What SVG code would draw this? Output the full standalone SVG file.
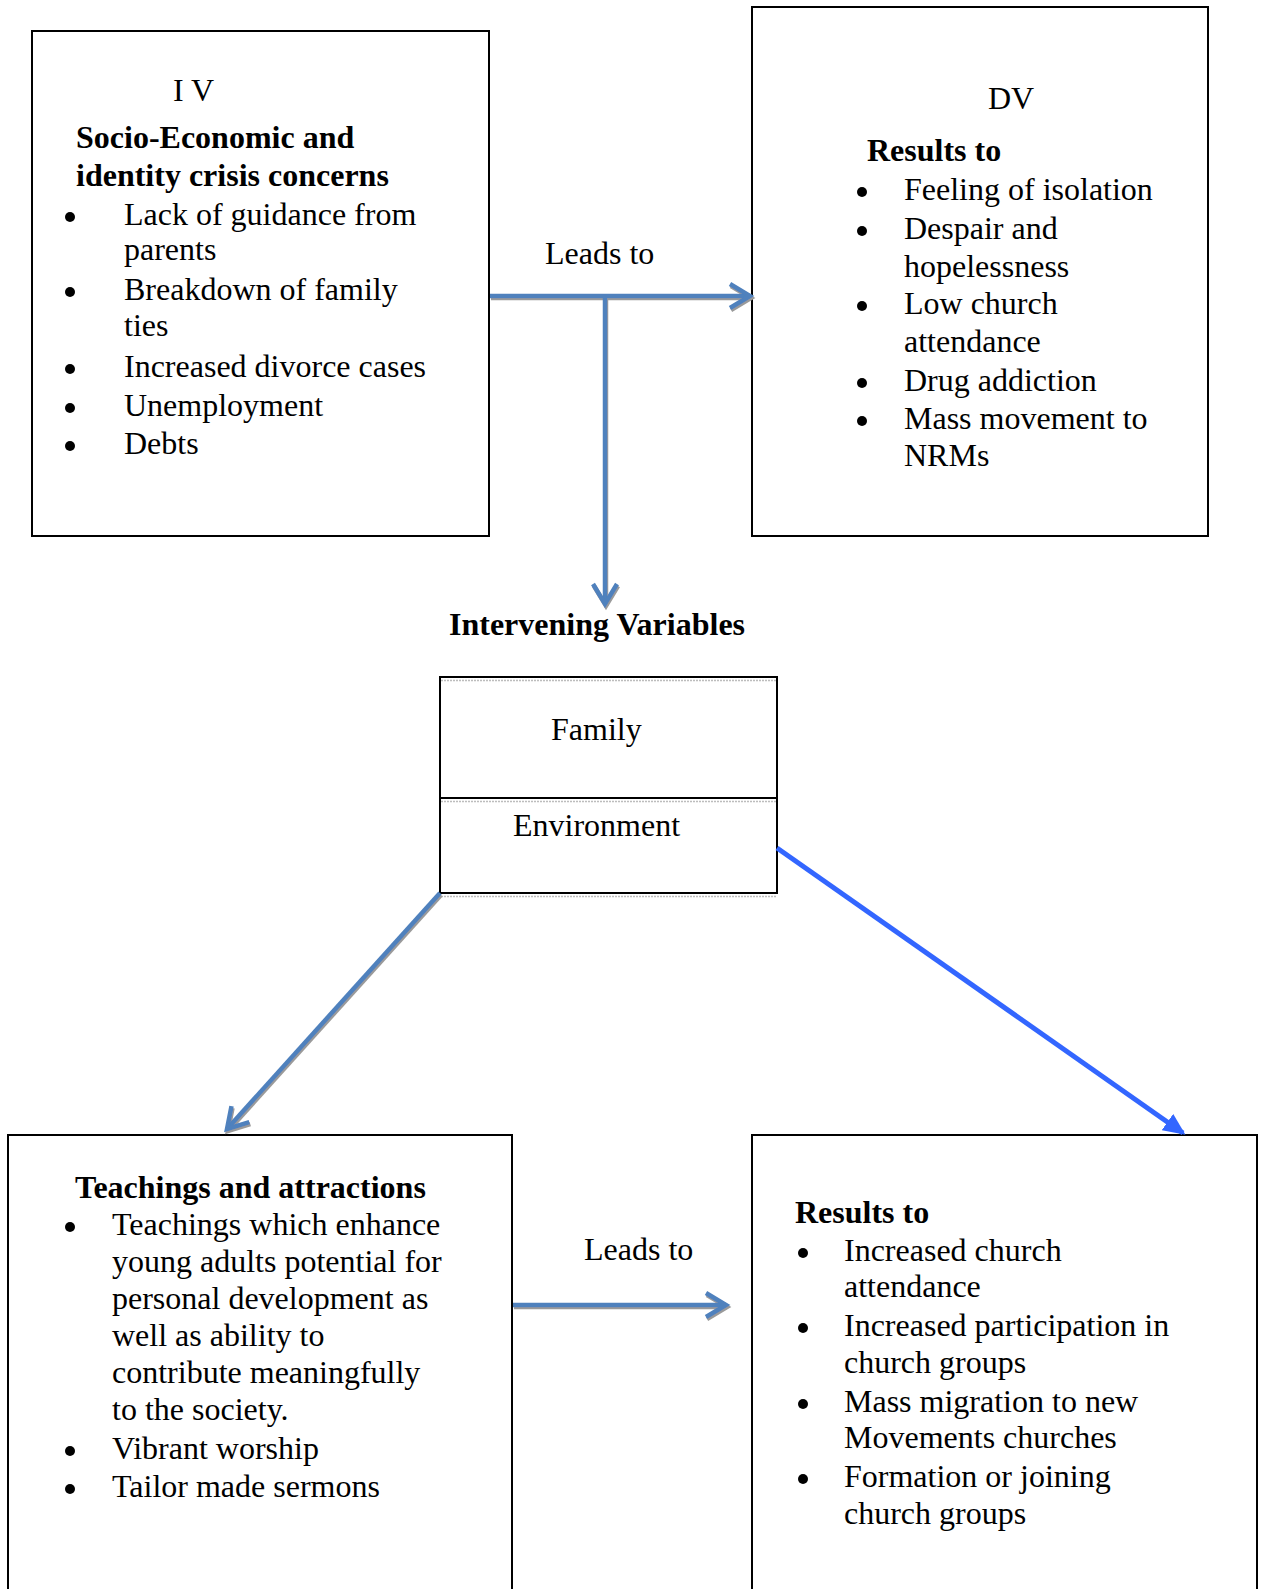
<svg xmlns="http://www.w3.org/2000/svg" width="1265" height="1589" viewBox="0 0 1265 1589">
<style>
.t{font-family:"Liberation Serif","Times New Roman",serif;font-size:32px;fill:#000}
.b{font-weight:bold}
.box{fill:#fff;stroke:#000;stroke-width:2}
.sh{stroke:#bdbdbd;stroke-width:1.5;stroke-dasharray:2 1}
.dot{fill:#000}
.conn{fill:none;stroke:#4F81BD;stroke-width:4.5;filter:url(#ds)}
.conn2{fill:none;stroke:#3366FF;stroke-width:5}
</style>
<defs>
<filter id="ds" filterUnits="userSpaceOnUse" x="0" y="0" width="1265" height="1589">
<feDropShadow dx="1" dy="2" stdDeviation="0.6" flood-color="#9a9a9a"/>
</filter>
<marker id="chev" viewBox="0 0 30 30" markerWidth="30" markerHeight="30" refX="25" refY="15" orient="auto" markerUnits="userSpaceOnUse" overflow="visible">
<path d="M5,3 L25,15 L5,27" fill="none" stroke="#4F81BD" stroke-width="4.5" stroke-linejoin="miter"/>
</marker>
<marker id="tri" viewBox="0 0 22 20" markerWidth="22" markerHeight="20" refX="19" refY="10" orient="auto" markerUnits="userSpaceOnUse">
<path d="M0,0 L22,10 L0,20 z" fill="#3366FF"/>
</marker>
</defs>
<rect width="1265" height="1589" fill="#fff"/>

<g id="iv">
<rect class="box" x="32" y="31" width="457" height="505"/>
<text class="t" x="173" y="101">I V</text>
<text class="t b" x="76" y="148">Socio-Economic and</text>
<text class="t b" x="76" y="186">identity crisis concerns</text>
<circle class="dot" cx="70" cy="217" r="5"/>
<text class="t" x="124" y="225">Lack of guidance from</text>
<text class="t" x="124" y="260">parents</text>
<circle class="dot" cx="70" cy="292" r="5"/>
<text class="t" x="124" y="300">Breakdown of family</text>
<text class="t" x="124" y="336">ties</text>
<circle class="dot" cx="70" cy="369" r="5"/>
<text class="t" x="124" y="377">Increased divorce cases</text>
<circle class="dot" cx="70" cy="408" r="5"/>
<text class="t" x="124" y="416">Unemployment</text>
<circle class="dot" cx="70" cy="446" r="5"/>
<text class="t" x="124" y="454">Debts</text>
</g>

<g id="dv">
<rect class="box" x="752" y="7" width="456" height="529"/>
<text class="t" x="988" y="109">DV</text>
<text class="t b" x="867" y="161">Results to</text>
<circle class="dot" cx="862" cy="192" r="5"/>
<text class="t" x="904" y="200">Feeling of isolation</text>
<circle class="dot" cx="862" cy="231" r="5"/>
<text class="t" x="904" y="239">Despair and</text>
<text class="t" x="904" y="277">hopelessness</text>
<circle class="dot" cx="862" cy="306" r="5"/>
<text class="t" x="904" y="314">Low church</text>
<text class="t" x="904" y="352">attendance</text>
<circle class="dot" cx="862" cy="383" r="5"/>
<text class="t" x="904" y="391">Drug addiction</text>
<circle class="dot" cx="862" cy="421" r="5"/>
<text class="t" x="904" y="429">Mass movement to</text>
<text class="t" x="904" y="466">NRMs</text>
</g>

<g id="intervening-title">
<text class="t b" x="449" y="635">Intervening Variables</text>
</g>

<g id="intervening">
<rect class="box" x="440" y="677" width="337" height="216"/>
<line class="sh" x1="441" y1="680.5" x2="776" y2="680.5"/>
<line x1="440" y1="798" x2="777" y2="798" stroke="#000" stroke-width="2"/>
<line class="sh" x1="441" y1="801.5" x2="776" y2="801.5"/>
<line class="sh" x1="441" y1="896.5" x2="777" y2="896.5"/>
<text class="t" x="551" y="740">Family</text>
<text class="t" x="513" y="836">Environment</text>
</g>

<g id="teachings">
<rect class="box" x="8" y="1135" width="504" height="470"/>
<text class="t b" x="75" y="1198">Teachings and attractions</text>
<circle class="dot" cx="70" cy="1227" r="5"/>
<text class="t" x="112" y="1235">Teachings which enhance</text>
<text class="t" x="112" y="1272">young adults potential for</text>
<text class="t" x="112" y="1309">personal development as</text>
<text class="t" x="112" y="1346">well as ability to</text>
<text class="t" x="112" y="1383">contribute meaningfully</text>
<text class="t" x="112" y="1420">to the society.</text>
<circle class="dot" cx="70" cy="1451" r="5"/>
<text class="t" x="112" y="1459">Vibrant worship</text>
<circle class="dot" cx="70" cy="1489" r="5"/>
<text class="t" x="112" y="1497">Tailor made sermons</text>
</g>

<g id="results">
<rect class="box" x="752" y="1135" width="505" height="470"/>
<text class="t b" x="795" y="1223">Results to</text>
<circle class="dot" cx="803" cy="1253" r="5"/>
<text class="t" x="844" y="1261">Increased church</text>
<text class="t" x="844" y="1297">attendance</text>
<circle class="dot" cx="803" cy="1328" r="5"/>
<text class="t" x="844" y="1336">Increased participation in</text>
<text class="t" x="844" y="1373">church groups</text>
<circle class="dot" cx="803" cy="1404" r="5"/>
<text class="t" x="844" y="1412">Mass migration to new</text>
<text class="t" x="844" y="1448">Movements churches</text>
<circle class="dot" cx="803" cy="1479" r="5"/>
<text class="t" x="844" y="1487">Formation or joining</text>
<text class="t" x="844" y="1524">church groups</text>
</g>

<g id="connectors">
<line class="conn" x1="490" y1="296" x2="750" y2="296" marker-end="url(#chev)"/>
<line class="conn" x1="605" y1="296" x2="605" y2="604" marker-end="url(#chev)"/>
<text class="t" x="545" y="264">Leads to</text>
<line class="conn" x1="440" y1="893" x2="227" y2="1129" marker-end="url(#chev)"/>
<line class="conn2" x1="777" y1="848" x2="1183" y2="1133" marker-end="url(#tri)"/>
<line class="conn" x1="513" y1="1305" x2="726" y2="1305" marker-end="url(#chev)"/>
<text class="t" x="584" y="1260">Leads to</text>
</g>
</svg>
